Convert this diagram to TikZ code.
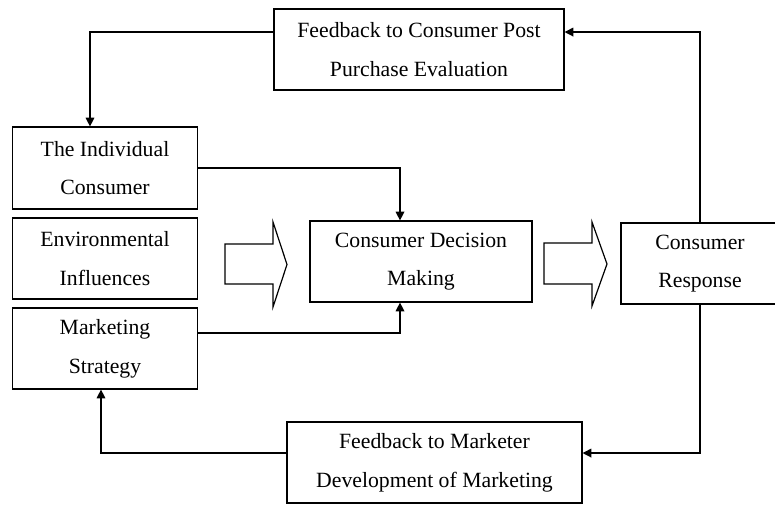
\documentclass[tikz,border=0pt]{standalone}
\usepackage{fontspec}
\setmainfont{Liberation Serif}
\usetikzlibrary{arrows.meta}
\begin{document}
\begin{tikzpicture}[x=0.75pt,y=-0.75pt,
  box/.style={draw,line width=0.9pt,rectangle,inner sep=0pt,align=center,
    font=\fontsize{16.3}{29}\selectfont},
  arr/.style={line width=0.9pt,-{Triangle[length=6.5pt,width=6.5pt]}},
  blk/.style={line width=0.9pt,line join=miter}]
\useasboundingbox (0,0) rectangle (775,504);
\clip (0,0) rectangle (775,504);
\node[box,minimum width=217.5pt,minimum height=60.75pt] (top) at (419,49.5) {Feedback to Consumer Post\\Purchase Evaluation};
\node[box,minimum width=138.75pt,minimum height=61.5pt] (ind) at (105,168) {The Individual\\Consumer};
\node[box,minimum width=138.75pt,minimum height=60.75pt] (env) at (105,258.5) {Environmental\\Influences};
\node[box,minimum width=138.75pt,minimum height=60.75pt] (mkt) at (105,348.5) {Marketing\\Strategy};
\node[box,minimum width=166.5pt,minimum height=60.75pt] (dec) at (421,261.5) {Consumer Decision\\Making};
\node[box,minimum width=118.5pt,minimum height=60.75pt] (resp) at (700,263.5) {Consumer\\Response};
\node[box,minimum width=221.25pt,minimum height=60.75pt] (bot) at (434.5,462.5) {Feedback to Marketer\\Development of Marketing};
% connectors
\draw[arr] ([yshift=13.1pt]top.west) -| ([xshift=-11.25pt]ind.north);
\draw[arr] (ind.east) -| ([xshift=-15.75pt]dec.north);
\draw[arr] ([yshift=11.6pt]mkt.east) -| ([xshift=-15.75pt]dec.south);
\draw[arr] (resp.north) |- ([yshift=13.1pt]top.east);
\draw[arr] (resp.south) |- ([yshift=7.1pt]bot.east);
\draw[arr] ([yshift=7.1pt]bot.west) -| ([xshift=-3pt]mkt.south);
% block arrows
\draw[blk] (225,244) -- (273,244) -- (273,222) -- (287,264.5) -- (273,307) -- (273,284) -- (225,284) -- cycle;
\draw[blk] (544,243) -- (592,243) -- (592,222) -- (607,264) -- (592,306) -- (592,284) -- (544,284) -- cycle;
\end{tikzpicture}
\end{document}
